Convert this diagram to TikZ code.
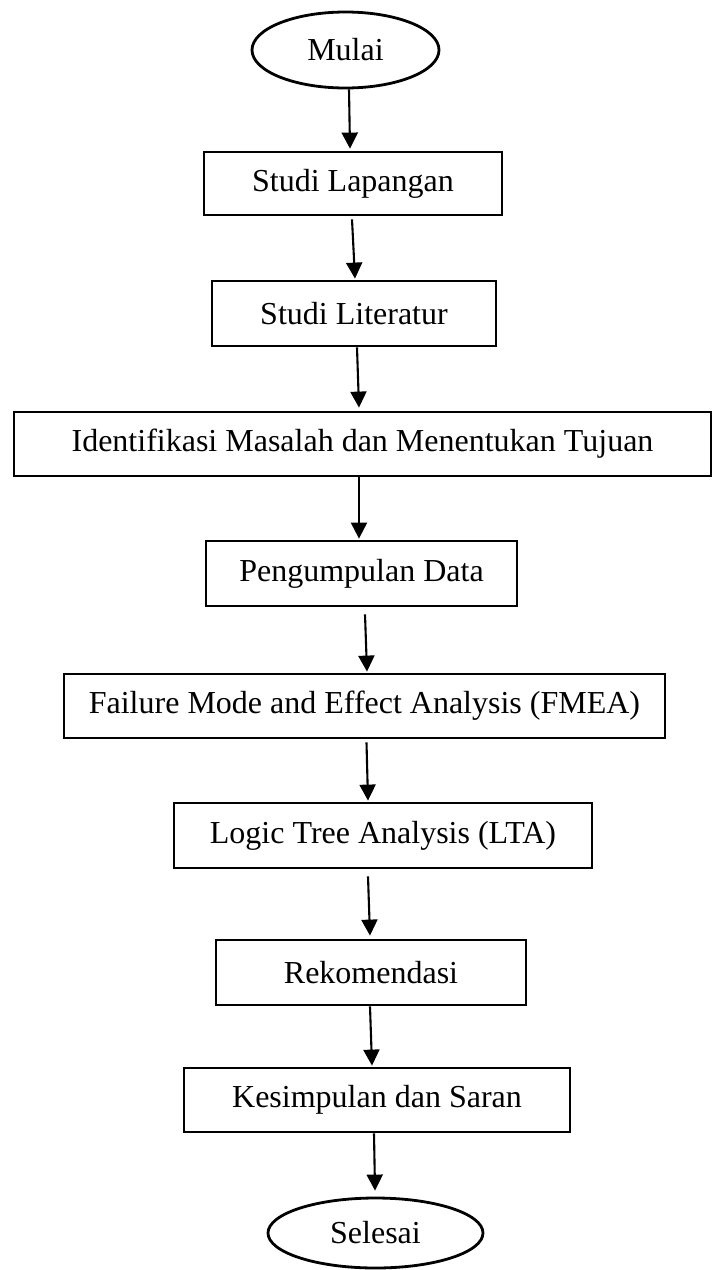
\documentclass[tikz,border=0pt]{standalone}
\usepackage{fontspec}
\setmainfont{Liberation Serif}
\usetikzlibrary{arrows.meta,calc,shapes.geometric}

\tikzset{
  stepbox/.style={draw=black, line width=1.4pt, rectangle, inner sep=0pt,
    font=\fontsize{16}{19.2}\selectfont},
  terminal/.style={draw=black, line width=1.4pt, ellipse, inner sep=0pt,
    font=\fontsize{16}{19.2}\selectfont},
  arr/.style={draw=black, line width=1.05pt, -{Triangle[length=8pt,width=8pt]}}
}

\begin{document}
\begin{tikzpicture}[x=0.5pt, y=-0.5pt]
  \useasboundingbox (0,0) rectangle (713,1270);

  % terminals and process steps
  \node[terminal, minimum width=93.5pt, minimum height=38pt] (mulai) at (345.5,50) {Mulai};
  \node[stepbox, minimum width=149pt, minimum height=31.5pt] (lap) at (353,183.5) {Studi Lapangan};
  \node[stepbox, minimum width=142pt, minimum height=32.5pt] (lit) at (354,313.5) {Studi Literatur};
  \node[stepbox, minimum width=348.5pt, minimum height=32pt] (ident) at (362.5,444) {Identifikasi Masalah dan Menentukan Tujuan};
  \node[stepbox, minimum width=155.5pt, minimum height=32.5pt] (data) at (361.5,573.5) {Pengumpulan Data};
  \node[stepbox, minimum width=300.5pt, minimum height=32pt] (fmea) at (364.5,706) {Failure Mode and Effect Analysis (FMEA)};
  \node[stepbox, minimum width=209pt, minimum height=32.5pt] (lta) at (383,835.5) {Logic Tree Analysis (LTA)};
  \node[stepbox, minimum width=155pt, minimum height=32.5pt] (rek) at (371,972.5) {Rekomendasi};
  \node[stepbox, minimum width=193pt, minimum height=32pt] (kes) at (377,1100) {Kesimpulan dan Saran};
  \node[terminal, minimum width=107.5pt, minimum height=35pt] (sel) at (375.5,1233) {Selesai};

  % flow connectors
  \draw[arr] ($(mulai.south)+(3.5,0)$) -- ($(lap.north)+(-3,-2)$);
  \draw[arr] ($(lap.south)+(-1,3)$) -- ($(lit.north)+(1,-1)$);
  \draw[arr] ($(lit.south)+(3,0)$) -- ($(ident.north)+(-3.5,-3)$);
  \draw[arr] ($(ident.south)+(-3.5,0)$) -- ($(data.north)+(-2.5,-1)$);
  \draw[arr] ($(data.south)+(3.5,7)$) -- ($(fmea.north)+(2.5,-1)$);
  \draw[arr] ($(fmea.south)+(2,3)$) -- ($(lta.north)+(-15,-1)$);
  \draw[arr] ($(lta.south)+(-15,7)$) -- ($(rek.north)+(-1,-3)$);
  \draw[arr] ($(rek.south)+(-1,0)$) -- ($(kes.north)+(-5,-1)$);
  \draw[arr] ($(kes.south)+(-3,0)$) -- ($(sel.north)+(-0.5,-6)$);
\end{tikzpicture}
\end{document}
